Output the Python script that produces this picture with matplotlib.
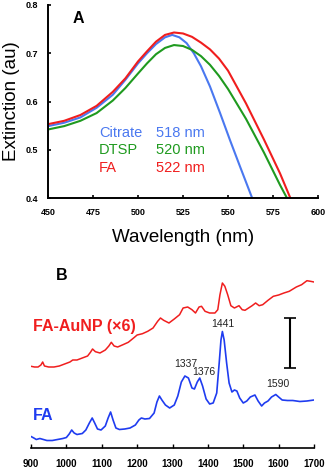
import numpy as np
import matplotlib
matplotlib.use("Agg")
import matplotlib.pyplot as plt

plt.rcParams['font.family'] = ['Liberation Sans', 'DejaVu Sans']

# ---- Panel A: extinction spectra ----
wl_citrate = [450, 459, 468, 477, 486, 493, 500, 505, 510, 515, 519, 523,
              527, 531, 535, 540, 545.6, 551.1, 556.7, 563.1, 565]
ext_citrate = [0.549, 0.556, 0.567, 0.587, 0.614, 0.645, 0.679, 0.700, 0.719, 0.733, 0.738, 0.733,
               0.721, 0.700, 0.673, 0.631, 0.576, 0.520, 0.465, 0.403, 0.385]

wl_dtsp = [450, 459, 468, 477, 486, 493, 500, 505, 510, 515, 520, 525,
           530, 535, 540, 545, 550, 560, 570, 578.9, 582.6, 585]
ext_dtsp = [0.542, 0.549, 0.560, 0.576, 0.602, 0.628, 0.658, 0.679, 0.698, 0.711, 0.717, 0.715,
            0.707, 0.694, 0.676, 0.653, 0.626, 0.564, 0.494, 0.427, 0.401, 0.385]

wl_fa = [450, 459, 468, 477, 486, 493, 500, 505, 510, 515, 520, 525,
         530, 535, 540, 545, 550, 560, 570, 578.9, 584.4, 586]
ext_fa = [0.553, 0.560, 0.572, 0.591, 0.620, 0.648, 0.683, 0.704, 0.724, 0.738, 0.743, 0.741,
          0.734, 0.722, 0.708, 0.689, 0.664, 0.596, 0.521, 0.451, 0.402, 0.39]

legend_names = ["Citrate", "DTSP", "FA"]
legend_peaks = ["518 nm", "520 nm", "522 nm"]
colors_a = ["#4a78f0", "#1f9a1f", "#f01e1e"]

# ---- Panel B: Raman spectra (arbitrary units) ----
wn_fa = [900, 908, 915, 925, 935, 945, 960, 975, 990, 1000, 1008, 1015, 1022, 1030,
         1045, 1055, 1065, 1073, 1080, 1088, 1098, 1110, 1118, 1125, 1132, 1140,
         1150, 1165, 1180, 1195, 1205, 1212, 1222, 1235, 1248, 1256, 1263, 1270,
         1280, 1292, 1305, 1315, 1325, 1335, 1345, 1355, 1362, 1370, 1377, 1385,
         1395, 1405, 1415, 1425, 1432, 1437, 1441, 1446, 1453, 1460, 1468, 1475,
         1482, 1490, 1500, 1510, 1520, 1533, 1542, 1552, 1560, 1570, 1580, 1592,
         1600, 1610, 1625, 1640, 1660, 1680, 1700]
int_fa = [11.5, 10, 8.5, 9.5, 8.5, 7.5, 7.5, 8.5, 9.5, 10.5, 14, 18, 15, 13.5,
          14.5, 18, 25, 30, 25, 19, 18, 22, 30, 36, 28, 20,
          18.5, 19, 20, 23, 28, 30, 29, 29.5, 35, 46, 52, 48,
          43, 40, 43, 52, 66, 72, 70, 60, 59, 66, 70, 62,
          49, 44, 45, 55, 85, 108, 116.5, 108, 85, 65, 56, 58,
          57, 50, 45, 47, 51, 53, 47, 42, 45, 47, 51, 53.5,
          51, 48, 47.5, 47.5, 46.5, 47, 48]

wn_auNP = [900, 910, 920, 928, 933, 938, 950, 965, 980, 995, 1010, 1018, 1030,
           1045, 1060, 1068, 1074, 1082, 1095, 1110, 1120, 1127, 1135, 1145, 1160,
           1175, 1190, 1200, 1215, 1230, 1245, 1258, 1266, 1275, 1290, 1305, 1320,
           1330, 1343, 1355, 1365, 1375, 1382, 1392, 1405, 1420, 1428, 1434, 1441,
           1448, 1456, 1465, 1475, 1488, 1497, 1505, 1515, 1525, 1535, 1545, 1555,
           1570, 1585, 1600, 1615, 1630, 1650, 1665, 1680, 1690, 1700]
int_auNP = [81.7, 81, 81, 83, 86, 82, 81, 81, 82, 84, 86, 88, 88,
            90, 92, 95.7, 99, 96.3, 95, 98, 102, 105.7, 102, 101, 103.3,
            105.7, 110, 113, 114.3, 116.7, 120, 126.7, 130, 127.7, 125, 129, 133.3,
            140, 141, 138.3, 135, 141, 141.7, 136.7, 135, 135, 138.3, 153, 165,
            161.7, 153.3, 142.3, 140, 142.3, 138.3, 137.7, 140, 142.3, 145, 142.3, 143.3,
            147.7, 151.7, 153, 155, 156.7, 161, 163.3, 167.3, 166.7, 166]

peak_labels = ["1337", "1376", "1441", "1590"]
peak_pos = [1338, 1389, 1443, 1598]
peak_height = [84, 76, 124, 64]

W, H = 328, 471
fig = plt.figure(figsize=(W / 100, H / 100), dpi=100)

# ---------------- Panel A ----------------
axA = fig.add_axes([48 / W, (H - 198) / H, 270 / W, 193 / H])
for wl, ext, c in zip([wl_citrate, wl_dtsp, wl_fa], [ext_citrate, ext_dtsp, ext_fa], colors_a):
    axA.plot(wl, ext, color=c, lw=1.5, solid_joinstyle="round")
axA.set_xlim(450, 600)
axA.set_ylim(0.4, 0.8)
axA.set_xticks(np.arange(450, 601, 25))
axA.set_yticks([0.4, 0.5, 0.6, 0.7, 0.8])
axA.set_yticklabels(["0.4", "0.5", "0.6", "0.7", "0.8"])
for s in ["top", "right"]:
    axA.spines[s].set_visible(False)
for s in ["left", "bottom"]:
    axA.spines[s].set_linewidth(1.4)
axA.tick_params(direction="in", length=2.5, width=1.2, labelsize=6.5, pad=7)
for lab in axA.get_xticklabels() + axA.get_yticklabels():
    lab.set_fontweight("bold")
axA.set_ylabel("Extinction (au)", fontsize=13.5, labelpad=4)
axA.set_xlabel("Wavelength (nm)", fontsize=13.5, labelpad=9)
axA.text(467, 0.772, "A", fontsize=11.5, fontweight="bold", ha="center", va="center")
for i, (name, pk, c) in enumerate(zip(legend_names, legend_peaks, colors_a)):
    yy = 0.535 - i * 0.036
    axA.text(478.3, yy, name, color=c, fontsize=10.5, ha="left", va="center")
    axA.text(510, yy, pk, color=c, fontsize=10.5, ha="left", va="center")

# ---------------- Panel B ----------------
axB = fig.add_axes([31 / W, (H - 448) / H, 283 / W, 178 / H])
axB.plot(wn_auNP, int_auNP, color="#f01e1e", lw=1.1, solid_joinstyle="round")
axB.plot(wn_fa, int_fa, color="#1f3cf0", lw=1.2, solid_joinstyle="round")
axB.set_xlim(900, 1700)
axB.set_ylim(0, 178)
axB.set_xticks(np.arange(900, 1701, 100))
axB.set_yticks([])
for s in ["top", "right", "left"]:
    axB.spines[s].set_visible(False)
axB.spines["bottom"].set_linewidth(1.2)
axB.tick_params(axis="x", direction="in", length=3, width=1.0, labelsize=7, pad=8)
for lab in axB.get_xticklabels():
    lab.set_fontweight("bold")

axB.text(988, 173, "B", fontsize=11.5, fontweight="bold", ha="center", va="center")
axB.text(906, 121, "FA-AuNP (\u00d76)", color="#f01e1e", fontsize=11.5,
         fontweight="bold", ha="left", va="center")
axB.text(906, 32, "FA", color="#1f3cf0", fontsize=11.5, fontweight="bold",
         ha="left", va="center")
for lab, x, y in zip(peak_labels, peak_pos, peak_height):
    axB.text(x, y, lab, fontsize=7.5, color="#222222", ha="center", va="center")

# scale bar
axB.errorbar([1632], [105], yerr=[25], color="black", capsize=4.5, capthick=1.2,
             elinewidth=1.5, fmt="none")

fig.savefig("out.png", dpi=100)
